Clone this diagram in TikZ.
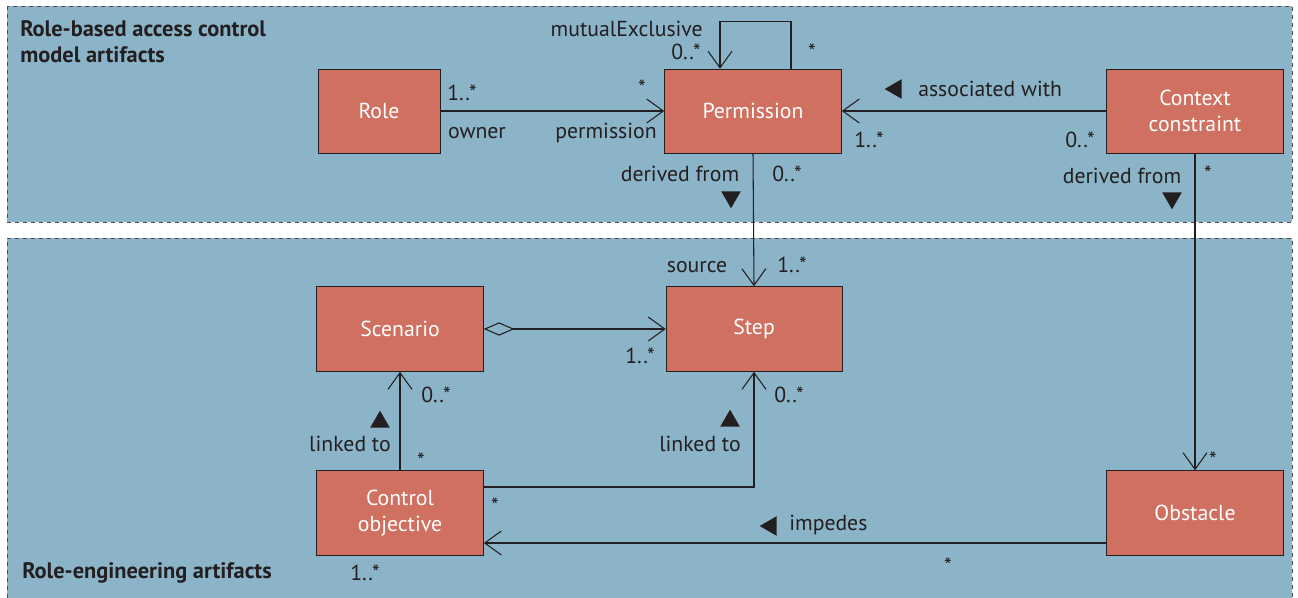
\documentclass[tikz,border=0pt]{standalone}
\usepackage{fontspec}
\setmainfont{PT Sans}
\usetikzlibrary{arrows.meta, shapes.geometric}
\definecolor{panelblue}{RGB}{139,180,200}
\definecolor{boxred}{RGB}{208,112,96}
\definecolor{ink}{RGB}{35,31,32}
\tikzset{
  cls/.style={draw=ink, fill=boxred, text=white, align=center, inner sep=0pt,
    font=\fontsize{16.3}{20}\selectfont},
  lbl/.style={text=ink, inner sep=0pt, font=\fontsize{16.3}{19}\selectfont},
  ttl/.style={text=ink, inner sep=0pt, align=left, font=\fontsize{16.8}{19.5}\selectfont\bfseries},
  assoc/.style={draw=ink, line width=0.8pt, -{Straight Barb[length=12.5pt,width=18pt,line width=0.8pt]}},
  aggr/.style={assoc, {Diamond[open,length=23pt,width=10pt,line width=0.8pt]}-{Straight Barb[length=12.5pt,width=18pt,line width=0.8pt]}},
  tri/.style={fill=ink, regular polygon, regular polygon sides=3, minimum size=17pt, inner sep=0pt},
  panel/.style={fill=panelblue, draw=ink!80, dashed, line width=0.6pt}
}
\begin{document}
\begin{tikzpicture}[x=0.75pt, y=-0.75pt]
\useasboundingbox (0,0) rectangle (1298,598);
% panels
\fill[white] (0,0) rectangle (1298,598);
\draw[panel] (7,6) rectangle (1292,222);
\fill[panelblue] (7,238) rectangle (1292,598);
\draw[draw=ink!80, dashed, line width=0.6pt] (7,598) |- (1292,238) -- (1292,598);
\node[ttl, anchor=north west] (rbac) at (20,20) {Role-based access control\\model artifacts};
\node[ttl, anchor=west] (reng) at (22,573) {Role-engineering artifacts};
% classes
\node[cls, minimum width=91.5pt, minimum height=63pt] (role) at (379,111) {Role};
\node[cls, minimum width=132.75pt, minimum height=63pt] (perm) at (753,111) {Permission};
\node[cls, minimum width=132.75pt, minimum height=63pt] (ctx) at (1195,111) {Context\\constraint};
\node[cls, minimum width=125.25pt, minimum height=63.75pt] (scen) at (400,329) {Scenario};
\node[cls, minimum width=132pt, minimum height=63.75pt] (step) at (754,329) {Step};
\node[cls, minimum width=125.25pt, minimum height=63.75pt] (ctrl) at (400,513) {Control\\objective};
\node[cls, minimum width=132.75pt, minimum height=63.75pt] (obst) at (1195,513) {Obstacle};
% connectors
\draw[assoc] (role.east) -- (perm.west);
\draw[assoc] ([xshift=28.5pt]perm.north) -- ++(0,35.25pt) -| ([xshift=-24.75pt]perm.north);
\draw[assoc] (ctx.west) -- (perm.east);
\draw[assoc] (perm.south) -- (step.north);
\draw[assoc] (ctx.south) -- (obst.north);
\draw[aggr] (scen.east) -- (step.west);
\draw[assoc] (ctrl.north) -- (scen.south);
\draw[assoc] ([yshift=19.5pt]ctrl.east) -| (step.south);
\draw[assoc] ([yshift=-22.5pt]obst.west) -- ([yshift=-22.5pt]ctrl.east);
% labels
\node[lbl, anchor=east] (mutex) at (703,29) {mutualExclusive};
\node[lbl] (mutexA) at (686,52) {0..*};
\node[lbl] (mutexB) at (812,52) {*};
\node[lbl] (ownerM) at (462,93) {1..*};
\node[lbl] (owner) at (477,133) {owner};
\node[lbl] (permM) at (642,88) {*};
\node[lbl] (permR) at (606,133) {permission};
\node[tri, shape border rotate=90] (assocT) at (896,89) {};
\node[lbl, anchor=west] (assocL) at (918,89) {associated with};
\node[lbl] (ctxPm) at (869,140) {1..*};
\node[lbl] (ctxCm) at (1080,140) {0..*};
\node[lbl] (derA) at (680,174) {derived from};
\node[tri, shape border rotate=180] (derAT) at (731,197) {};
\node[lbl] (derAm) at (787,174) {0..*};
\node[lbl] (derB) at (1122,176) {derived from};
\node[tri, shape border rotate=180] (derBT) at (1172,198) {};
\node[lbl] (derBm) at (1208,174) {*};
\node[lbl] (src) at (697,267) {source};
\node[lbl] (srcM) at (792,265) {1..*};
\node[lbl] (stepM) at (640,356) {1..*};
\node[lbl] (scenM) at (436,395) {0..*};
\node[tri] (linkAT) at (380,422) {};
\node[lbl] (linkA) at (350,444) {linked to};
\node[lbl] (ctrlM) at (421,461) {*};
\node[lbl] (stepB) at (789,395) {0..*};
\node[tri] (linkBT) at (730,421) {};
\node[lbl] (linkB) at (700,444) {linked to};
\node[lbl] (ctrlS) at (495,506) {*};
\node[tri, shape border rotate=90] (impT) at (771,526) {};
\node[lbl, anchor=west] (imp) at (789,525) {impedes};
\node[lbl] (obstM) at (1213,460) {*};
\node[lbl] (obstS) at (948,566) {*};
\node[lbl] (ctrlB) at (365,573) {1..*};
\end{tikzpicture}
\end{document}
